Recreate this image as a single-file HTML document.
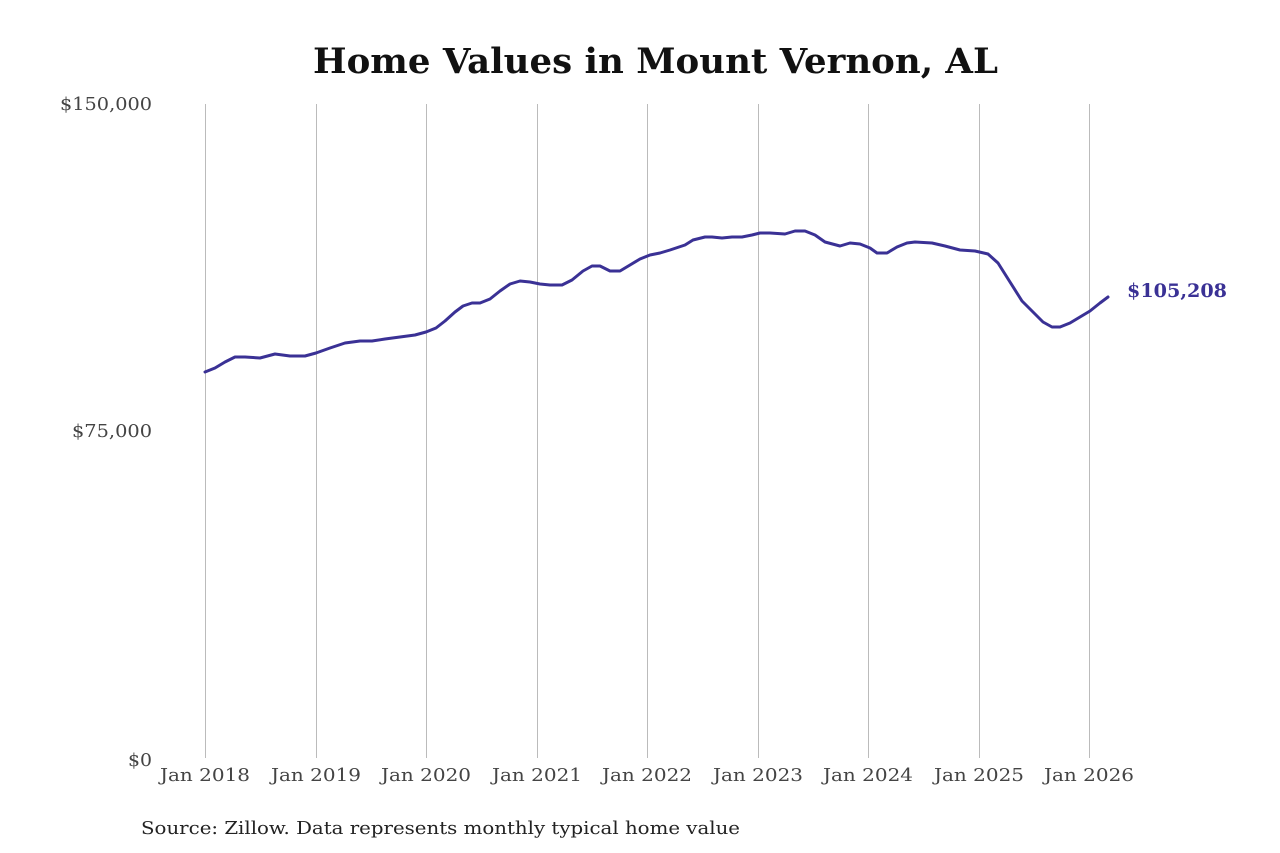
<!DOCTYPE html>
<html><head><meta charset="utf-8"><style>
html,body{margin:0;padding:0;background:#fff;}
</style></head><body>
<svg width="1280" height="853" xmlns="http://www.w3.org/2000/svg" style="display:block">
<rect width="1280" height="853" fill="#fff"/>
<text x="313" y="73" textLength="685" lengthAdjust="spacingAndGlyphs" font-family="'DejaVu Serif','Liberation Serif',serif" font-weight="bold" font-size="35" fill="#111">Home Values in Mount Vernon, AL</text>
<g stroke="#bbb" stroke-width="1">
<line x1="205.5" y1="104" x2="205.5" y2="758"/>
<line x1="316.5" y1="104" x2="316.5" y2="758"/>
<line x1="426.5" y1="104" x2="426.5" y2="758"/>
<line x1="537.5" y1="104" x2="537.5" y2="758"/>
<line x1="647.5" y1="104" x2="647.5" y2="758"/>
<line x1="758.5" y1="104" x2="758.5" y2="758"/>
<line x1="868.5" y1="104" x2="868.5" y2="758"/>
<line x1="979.5" y1="104" x2="979.5" y2="758"/>
<line x1="1089.5" y1="104" x2="1089.5" y2="758"/>
</g>
<g font-family="'DejaVu Serif','Liberation Serif',serif" font-size="18" fill="#444">
<text x="60" y="110" textLength="92" lengthAdjust="spacingAndGlyphs">$150,000</text>
<text x="72" y="437" textLength="80" lengthAdjust="spacingAndGlyphs">$75,000</text>
<text x="128" y="766" textLength="24" lengthAdjust="spacingAndGlyphs">$0</text>
<text x="160" y="781" textLength="90" lengthAdjust="spacingAndGlyphs">Jan 2018</text>
<text x="271" y="781" textLength="90" lengthAdjust="spacingAndGlyphs">Jan 2019</text>
<text x="381" y="781" textLength="90" lengthAdjust="spacingAndGlyphs">Jan 2020</text>
<text x="492" y="781" textLength="90" lengthAdjust="spacingAndGlyphs">Jan 2021</text>
<text x="602" y="781" textLength="90" lengthAdjust="spacingAndGlyphs">Jan 2022</text>
<text x="713" y="781" textLength="90" lengthAdjust="spacingAndGlyphs">Jan 2023</text>
<text x="823" y="781" textLength="90" lengthAdjust="spacingAndGlyphs">Jan 2024</text>
<text x="934" y="781" textLength="90" lengthAdjust="spacingAndGlyphs">Jan 2025</text>
<text x="1044" y="781" textLength="90" lengthAdjust="spacingAndGlyphs">Jan 2026</text>
<text x="141" y="834" fill="#222" textLength="599" lengthAdjust="spacingAndGlyphs">Source: Zillow. Data represents monthly typical home value</text>
</g>
<polyline fill="none" stroke="#3a3195" stroke-width="3" stroke-linejoin="round" stroke-linecap="round" points="205,372 215,368 225,362 235,357 245,357 260,358 275,354 290,356 305,356 316,353 330,348 345,343 360,341 372,341 385,339 400,337 415,335 426,332 436,328 445,321 455,312 463,306 472,303 480,303 490,299 500,291 510,284 520,281 530,282 540,284 550,285 562,285 572,280 583,271 592,266 600,266 610,271 620,271 630,265 640,259 650,255 660,253 670,250 685,245 693,240 705,237 712,237 722,238 732,237 742,237 752,235 760,233 770,233 785,234 795,231 805,231 815,235 825,242 840,246 850,243 860,244 870,248 877,253 887,253 897,247 907,243 915,242 932,243 945,246 960,250 975,251 988,254 998,263 1010,282 1022,301 1033,312 1043,322 1052,327 1060,327 1070,323 1080,317 1090,311 1100,303 1108,297"/>
<text x="1127" y="297" textLength="100" lengthAdjust="spacingAndGlyphs" font-family="'DejaVu Serif','Liberation Serif',serif" font-weight="bold" font-size="19" fill="#3a3195">$105,208</text>
</svg>
</body></html>
